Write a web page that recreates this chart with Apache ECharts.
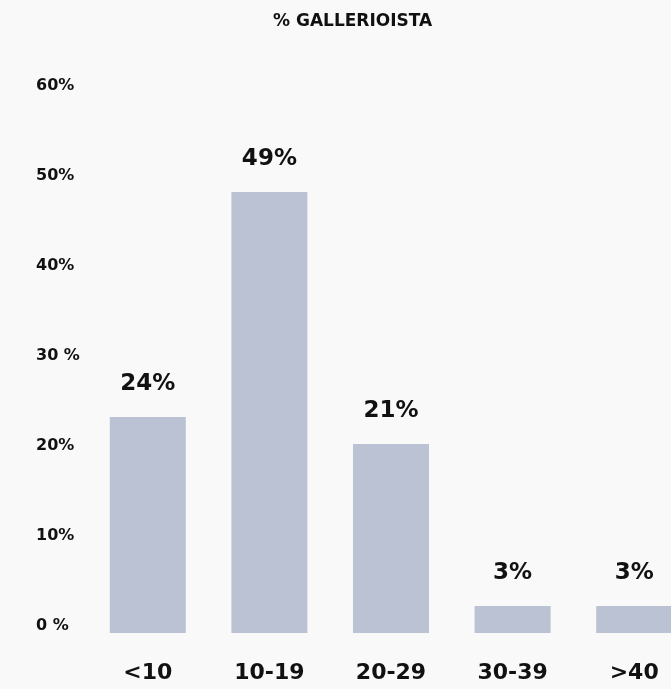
<!DOCTYPE html>
<html>
<head>
<meta charset="utf-8">
<title>% GALLERIOISTA</title>
<script src="https://cdn.jsdelivr.net/npm/echarts@6/dist/echarts.min.js"></script>
<style>
  html, body { margin: 0; padding: 0; background: #f9f9f9; overflow: hidden; }
  /* plot runs past the right edge in the original, so the canvas is wider than the window */
  #chart { width: 695px; height: 689px; }
</style>
</head>
<body>
<div id="chart"></div>
<script>
// data
var categories = ["<10", "10-19", "20-29", "30-39", ">40"];
var shares = [24, 49, 21, 3, 3];
var valueLabels = ["24%", "49%", "21%", "3%", "3%"];
var yTickLabels = ["0 %", "10%", "20%", "30 %", "40%", "50%", "60%"];

var font = "DejaVu Sans";
var chart = echarts.init(document.getElementById("chart"));

var option = {
  backgroundColor: "#f9f9f9",
  animation: false,
  title: {
    text: "% GALLERIOISTA",
    left: 268,
    top: 8,
    textStyle: { fontFamily: font, fontWeight: "bold", fontSize: 17, color: "#111" }
  },
  grid: { left: 87, right: 0, top: 93, bottom: 56 },
  xAxis: {
    type: "category",
    data: categories,
    axisLine: { show: false },
    axisTick: { show: false },
    axisLabel: {
      margin: 29,
      fontFamily: font,
      fontWeight: "bold",
      fontSize: 22,
      color: "#111"
    }
  },
  yAxis: {
    type: "value",
    min: 0,
    max: 60,
    interval: 10,
    splitLine: { show: false },
    axisLine: { show: false },
    axisTick: { show: false },
    axisLabel: {
      align: "left",
      verticalAlign: "bottom",
      lineHeight: 14,
      margin: 51,
      fontFamily: font,
      fontWeight: "bold",
      fontSize: 16,
      color: "#111",
      formatter: function (v) {
        return yTickLabels[Math.round(v / 10)];
      }
    }
  },
  series: [
    {
      type: "bar",
      data: shares,
      barWidth: 76,
      itemStyle: { color: "#bbc2d4" },
      label: {
        show: true,
        position: "top",
        distance: 21,
        fontFamily: font,
        fontWeight: "bold",
        fontSize: 23,
        color: "#111",
        formatter: function (p) {
          return valueLabels[p.dataIndex];
        }
      }
    }
  ]
};
chart.setOption(option);
</script>
</body>
</html>
